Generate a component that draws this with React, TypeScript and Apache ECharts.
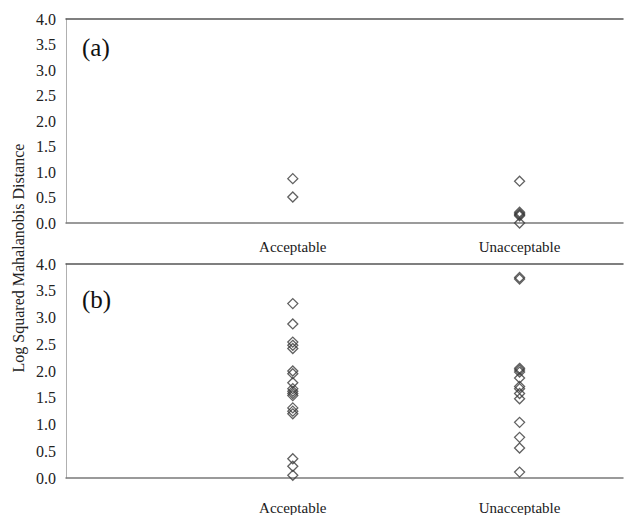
import React, { useEffect, useRef } from "react";
import * as echarts from "echarts";

const CATEGORIES = ["Acceptable", "Unacceptable"];
const Y_TICKS = [0, 0.5, 1, 1.5, 2, 2.5, 3, 3.5, 4];

// Panel (a)
const A_ACCEPTABLE = [0.87, 0.51];
const A_UNACCEPTABLE = [0.82, 0.21, 0.18, 0.16, 0.14, 0.0];

// Panel (b)
const B_ACCEPTABLE = [3.26, 2.88, 2.54, 2.48, 2.42, 2.0, 1.95, 1.78, 1.67, 1.62, 1.58, 1.54, 1.31, 1.25, 1.2, 0.36, 0.22, 0.05];
const B_UNACCEPTABLE = [3.75, 3.72, 2.05, 2.02, 1.98, 1.87, 1.71, 1.67, 1.58, 1.48, 1.04, 0.76, 0.56, 0.11];

const FONT = "Liberation Serif";

export default function App() {
  const ref = useRef<HTMLDivElement>(null);
  useEffect(() => {
    document.body.style.margin = "0";
    const chart = echarts.init(ref.current!, null, { renderer: "svg" });
    const toPts = (vals: number[], ci: number) => vals.map((v) => [ci + 1, v]);
    const xBottom = (gi: number, margin: number) => ({
      type: "value",
      gridIndex: gi,
      position: "bottom",
      min: 0,
      max: 2.456,
      interval: 1,
      axisLine: { show: true, onZero: false, lineStyle: { color: "#7a7a7a", width: 1.5 } },
      axisTick: { show: false },
      splitLine: { show: false },
      axisLabel: {
        show: true,
        margin,
        fontFamily: FONT,
        fontSize: 15,
        color: "#1a1a1a",
        showMinLabel: false,
        formatter: (v: number) => (Number.isInteger(v) && v >= 1 && v <= CATEGORIES.length ? CATEGORIES[v - 1] : ""),
      },
    });
    const xTop = (gi: number) => ({
      type: "value",
      gridIndex: gi,
      position: "top",
      min: 0,
      max: 2.456,
      interval: 1,
      axisLine: { show: true, onZero: false, lineStyle: { color: "#555", width: 1.5 } },
      axisTick: { show: false },
      splitLine: { show: false },
      axisLabel: { show: false },
    });
    const yAx = (gi: number) => ({
      type: "value",
      gridIndex: gi,
      min: Y_TICKS[0],
      max: Y_TICKS[Y_TICKS.length - 1],
      interval: 0.5,
      axisLine: { show: true, lineStyle: { color: "#b0b0b0", width: 1 } },
      axisTick: { show: false },
      splitLine: { show: false },
      axisLabel: {
        margin: 10,
        fontFamily: FONT,
        fontSize: 16,
        color: "#222",
        formatter: (v: number) => v.toFixed(1),
      },
    });
    const sty = {
      symbol: "diamond",
      symbolSize: [10, 10],
      itemStyle: { color: "rgba(0,0,0,0)", borderColor: "#3a3a3a", borderWidth: 1.3 },
    };
    chart.setOption({
      animation: false,
      backgroundColor: "#fff",
      grid: [
        { left: 66, top: 19, right: 0, height: 204 },
        { left: 66, top: 264, right: 0, height: 214 },
      ],
      xAxis: [xBottom(0, 16), xTop(0), xBottom(1, 22), xTop(1)],
      yAxis: [yAx(0), yAx(1)],
      series: [
        { type: "scatter", xAxisIndex: 0, yAxisIndex: 0, data: toPts(A_ACCEPTABLE, 0), ...sty },
        { type: "scatter", xAxisIndex: 0, yAxisIndex: 0, data: toPts(A_UNACCEPTABLE, 1), ...sty },
        { type: "scatter", xAxisIndex: 2, yAxisIndex: 1, data: toPts(B_ACCEPTABLE, 0), ...sty },
        { type: "scatter", xAxisIndex: 2, yAxisIndex: 1, data: toPts(B_UNACCEPTABLE, 1), ...sty },
      ],
      graphic: [
        {
          type: "text",
          x: 18,
          y: 258,
          rotation: Math.PI / 2,
          style: {
            text: "Log Squared Mahalanobis Distance",
            fontFamily: FONT,
            fontSize: 16,
            fill: "#222",
            textAlign: "center",
            textVerticalAlign: "middle",
          },
        },
        {
          type: "text",
          x: 82,
          y: 47,
          style: { text: "(a)", fontFamily: FONT, fontSize: 25, fill: "#111", textVerticalAlign: "middle" },
        },
        {
          type: "text",
          x: 82,
          y: 299,
          style: { text: "(b)", fontFamily: FONT, fontSize: 25, fill: "#111", textVerticalAlign: "middle" },
        },
      ],
    });
    return () => chart.dispose();
  }, []);
  return <div ref={ref} style={{ width: 626, height: 515 }} />;
}
